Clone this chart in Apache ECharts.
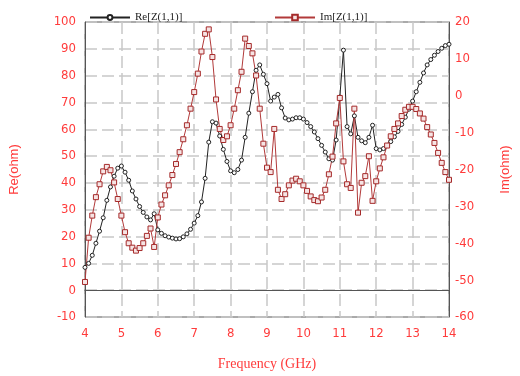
<!DOCTYPE html>
<html>
<head>
<meta charset="utf-8">
<script src="https://cdn.jsdelivr.net/npm/echarts@6/dist/echarts.min.js"></script>
<style>
  html, body { margin: 0; padding: 0; background: #fff; }
  #chart { width: 520px; height: 376px; }
</style>
</head>
<body>
<div id="chart"></div>
<script>
// frequency points (GHz)
const freq = [
    4.0, 4.1, 4.2, 4.3, 4.4, 4.5, 4.6, 4.7, 4.8, 4.9,
    5.0, 5.1, 5.2, 5.3, 5.4, 5.5, 5.6, 5.7, 5.8, 5.9,
    6.0, 6.1, 6.2, 6.3, 6.4, 6.5, 6.6, 6.7, 6.8, 6.9,
    7.0, 7.1, 7.2, 7.3, 7.4, 7.5, 7.6, 7.7, 7.8, 7.9,
    8.0, 8.1, 8.2, 8.3, 8.4, 8.5, 8.6, 8.7, 8.8, 8.9,
    9.0, 9.1, 9.2, 9.3, 9.4, 9.5, 9.6, 9.7, 9.8, 9.9,
    10.0, 10.1, 10.2, 10.3, 10.4, 10.5, 10.6, 10.7, 10.8, 10.9,
    11.0, 11.1, 11.2, 11.3, 11.4, 11.5, 11.6, 11.7, 11.8, 11.9,
    12.0, 12.1, 12.2, 12.3, 12.4, 12.5, 12.6, 12.7, 12.8, 12.9,
    13.0, 13.1, 13.2, 13.3, 13.4, 13.5, 13.6, 13.7, 13.8, 13.9,
    14.0
];

// Re[Z(1,1)] in ohm (left axis)
const reZ = [
    8.5, 10, 13, 17.5, 22, 27, 33.5, 38.5, 42.5, 45.5,
    46.3, 44, 41, 37, 34, 31.2, 29, 27.3, 26.2, 28.5,
    22.5, 21.2, 20.3, 19.8, 19.4, 19.1, 19.2, 19.9, 21, 22.7,
    25, 27.8, 32.9, 41.7, 55.2, 62.8, 62.3, 57.5, 52.5, 48,
    44.5, 43.8, 45, 48.5, 57, 66, 74, 82, 84, 80.5,
    77, 70.5, 72, 73, 68, 64.2, 63.5, 63.8, 64.3, 64.3,
    63.8, 62.5, 61, 59, 56.5, 54, 51.5, 49, 48.5, 56,
    72, 89.5, 61, 58.3, 65, 57, 55.7, 55, 57, 61.5,
    52.8, 52.3, 52.8, 54, 55.4, 57.2, 59.2, 61.8, 64.5, 67.5,
    70.5, 74, 77.5, 81, 84, 86, 87.6, 89, 90.2, 91.2,
    91.7
];

// Im[Z(1,1)] in ohm (right axis)
const imZ = [
    -50.5, -38.5, -32.5, -27.5, -24, -20.5, -19.3, -20.2, -23.5, -28,
    -32.5, -37, -40, -41.2, -42, -41.3, -40, -38, -36, -41,
    -33, -29.5, -27, -24.3, -21.5, -18.5, -15.3, -11.8, -8, -3.5,
    1, 6, 12, 16.8, 18, 10.5, -1, -9, -12, -11,
    -8, -3.5, 1.5, 6.5, 15.5, 13.5, 11.5, 5.5, -3.5, -13,
    -19.5, -20.7, -9, -25.5, -28, -26.7, -24.3, -23, -22.5, -23.2,
    -24.3, -25.8, -27.3, -28.3, -28.6, -27.6, -25.5, -21.3, -16.5, -7.5,
    -0.6, -17.8, -24, -25, -3.5, -31.7, -23.6, -21.8, -16.4, -28.5,
    -23.2, -19.7, -16.7, -13.5, -11, -9, -7.5, -5.5, -3.8, -3,
    -3, -3.6, -4.8, -6.2, -8.5, -10.5, -12.8, -15.5, -18.2, -20.7,
    -22.8
];

const leftTicks = { min: -10, max: 100, interval: 10 };
const rightTicks = { min: -60, max: 20, interval: 10 };

const labelRed = '#ff3b3b';
const tickFont = "'DejaVu Sans Condensed', 'Liberation Sans Narrow', 'Liberation Sans', sans-serif";
const serifFont = "'Liberation Serif', 'DejaVu Serif', serif";

const chartDom = document.getElementById('chart');
const myChart = echarts.init(chartDom);

const option = {
    animation: false,
    backgroundColor: '#fff',
    grid: {
        left: 85, right: 65, top: 22, bottom: 58,
        show: true, borderColor: '#555', borderWidth: 1
    },
    legend: [{
        data: ['Re[Z(1,1)]'],
        left: 84, top: 7,
        itemWidth: 40, itemHeight: 6, itemGap: 6,
        textStyle: { color: '#222', fontFamily: serifFont, fontSize: 11 }
    }, {
        data: ['Im[Z(1,1)]'],
        left: 269, top: 7,
        itemWidth: 40, itemHeight: 7, itemGap: 6,
        textStyle: { color: '#222', fontFamily: serifFont, fontSize: 11 }
    }],
    xAxis: {
        type: 'value',
        min: 4, max: 14, interval: 1,
        name: 'Frequency (GHz)',
        nameLocation: 'middle',
        nameGap: 40,
        nameTextStyle: { color: labelRed, fontFamily: serifFont, fontSize: 14 },
        axisLine: { lineStyle: { color: '#555' } },
        axisTick: { show: false },
        axisLabel: { color: labelRed, fontFamily: tickFont, fontSize: 13, margin: 10 },
        splitLine: { lineStyle: { color: '#c8c8c8', width: 1.5, type: [12, 5] } }
    },
    yAxis: [{
        type: 'value',
        min: leftTicks.min, max: leftTicks.max, interval: leftTicks.interval,
        name: 'Re(ohm)',
        nameLocation: 'middle',
        nameRotate: 90,
        nameGap: 64,
        nameTextStyle: { color: labelRed, fontFamily: "'Liberation Sans', sans-serif", fontSize: 13 },
        axisLine: { show: true, lineStyle: { color: '#555' } },
        axisTick: { show: false },
        axisLabel: { color: labelRed, fontFamily: tickFont, fontSize: 13, margin: 9 },
        splitLine: { lineStyle: { color: '#c8c8c8', width: 1.5, type: [12, 5] } }
    }, {
        type: 'value',
        position: 'right',
        min: rightTicks.min, max: rightTicks.max, interval: rightTicks.interval,
        name: 'Im(ohm)',
        nameLocation: 'middle',
        nameRotate: 90,
        nameGap: 50,
        nameTextStyle: { color: labelRed, fontFamily: "'Liberation Sans', sans-serif", fontSize: 13 },
        axisLine: { show: true, lineStyle: { color: '#555' } },
        axisTick: { show: false },
        axisLabel: { color: labelRed, fontFamily: tickFont, fontSize: 13, margin: 6 },
        splitLine: { show: false }
    }],
    series: [{
        name: 'Re[Z(1,1)]',
        type: 'line',
        yAxisIndex: 0,
        data: freq.map((f, i) => [f, reZ[i]]),
        symbol: 'circle',
        symbolSize: 4,
        lineStyle: { color: '#222', width: 1 },
        itemStyle: { color: '#fff', borderColor: '#222', borderWidth: 1 }
    }, {
        name: 'Im[Z(1,1)]',
        type: 'line',
        yAxisIndex: 1,
        data: freq.map((f, i) => [f, imZ[i]]),
        symbol: 'rect',
        symbolSize: 5,
        lineStyle: { color: '#b23a3a', width: 1 },
        itemStyle: { color: '#f6e4e4', borderColor: '#a52a2a', borderWidth: 1 }
    }]
};

myChart.setOption(option);
window.addEventListener('resize', () => myChart.resize());
</script>
</body>
</html>
